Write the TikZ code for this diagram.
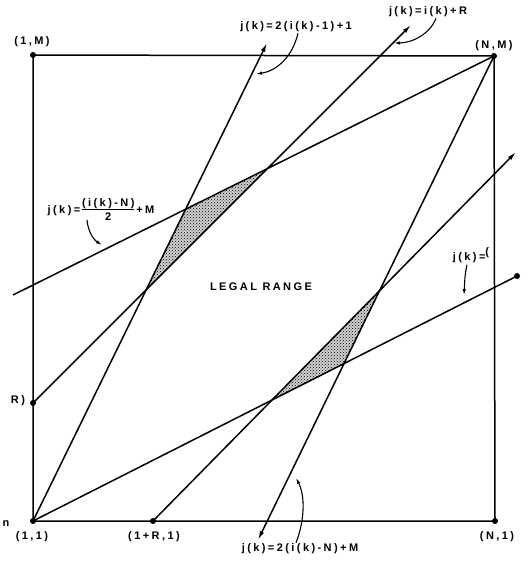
\documentclass[tikz,border=0pt]{standalone}
\usepackage{fontspec}
\usetikzlibrary{arrows.meta,patterns}
\newfontfamily\labfont{Liberation Sans}[LetterSpace=22]
\tikzset{
  lab/.style={font=\labfont\bfseries\fontsize{11}{12}\selectfont, inner sep=0pt},
  ln/.style={line width=1.5pt},
  tip/.style={-{Latex[length=9pt,width=4.5pt]}},
  callout/.style={line width=1.1pt, -{Latex[length=6pt,width=3.5pt]}},
  pt/.style={circle, fill, inner sep=0pt, minimum size=6pt},
  shade/.style={pattern=crosshatch dots, pattern color=black}
}
\begin{document}
\begin{tikzpicture}[x=1pt,y=-1pt]
\useasboundingbox (0,0) rectangle (527,564);
% corner and end points
\coordinate (A) at (33,55);
\coordinate (B) at (494,56);
\coordinate (C) at (33,521);
\coordinate (D) at (495,521);
\coordinate (E) at (153,521);
\coordinate (F) at (33,403);
\coordinate (e1) at (267,43);
\coordinate (e2) at (411,25);
\coordinate (e3) at (517,276);
\coordinate (e4) at (13,295);
\coordinate (e5) at (258,540);
\coordinate (e6) at (516,152);
% shaded regions
\coordinate (p1) at (intersection of C--e1 and F--e2);
\coordinate (p2) at (intersection of C--e1 and B--e4);
\coordinate (p3) at (intersection of F--e2 and B--e4);
\coordinate (q1) at (intersection of E--e6 and C--e3);
\coordinate (q2) at (intersection of B--e5 and C--e3);
\coordinate (q3) at (intersection of B--e5 and E--e6);
\fill[black!18] (p1) -- (p2) -- (p3) -- cycle;
\fill[black!18] (q1) -- (q2) -- (q3) -- cycle;
\fill[shade] (p1) -- (p2) -- (p3) -- cycle;
\fill[shade] (q1) -- (q2) -- (q3) -- cycle;
% frame and lines
\draw[ln] (A) -- (B) -- (D) -- (C) -- cycle;
\draw[ln,tip] (C) -- (e1);
\draw[ln,tip] (F) -- (e2);
\draw[ln] (C) -- (e3);
\draw[ln] (B) -- (e4);
\draw[ln,tip] (B) -- (e5);
\draw[ln,tip] (E) -- (e6);
% dots
\node[pt] (dA) at (A) {};
\node[pt] (dB) at (B) {};
\node[pt] (dC) at (C) {};
\node[pt] (dD) at (D) {};
\node[pt] (dE) at (E) {};
\node[pt] (dF) at (F) {};
\node[pt] (d3) at (e3) {};
% point labels
\node[lab] (lA) at (32,42) {(1,M)};
\node[lab] (lB) at (494,46) {(N,M)};
\node[lab] (lC) at (32,537) {(1,1)};
\node[lab] (lE) at (154,537) {(1+R,1)};
\node[lab] (lD) at (497,537) {(N,1)};
\node[lab] (lF) at (18,401) {R)};
\node[lab] (ln) at (6,524) {n};
\node[lab] (lg) at (261,287) {LEGAL RANGE};
% line labels
\node[lab] (t1) at (296,27) {j(k)=2(i(k)-1)+1};
\node[lab] (t2) at (428,12) {j(k)=i(k)+R};
\node[lab] (t4) at (101,211) {j(k)=\,\begin{tabular}{@{}c@{}}(i(k)-N)\\[-1pt]\hline\rule{0pt}{11pt}2\end{tabular}\,+M};
\node[lab] (t3) at (471,255) {j(k)=\raisebox{5pt}{(}};
\node[lab] (t5) at (300,549) {j(k)=2(i(k)-N)+M};
% callout arrows
\coordinate (c1) at (256,74);
\coordinate (c2) at (394,43);
\coordinate (c4) at (102,245);
\coordinate (c3) at (464,295);
\coordinate (c5) at (296,478);
\draw[callout] ([xshift=2pt,yshift=-1pt]t1.south) .. controls (292,58) and (276,71) .. (c1);
\draw[callout] ([xshift=8pt,yshift=-1pt]t2.south) .. controls (430,34) and (412,43) .. (c2);
\draw[callout] (87,220) .. controls (88,232) and (94,240) .. (c4);
\draw[callout] ([xshift=-4pt,yshift=-2pt]t3.south) .. controls (465,275) .. (c3);
\draw[callout] ([xshift=-4pt,yshift=1pt]t5.north) .. controls (305,520) and (305,495) .. (c5);
\end{tikzpicture}
\end{document}
